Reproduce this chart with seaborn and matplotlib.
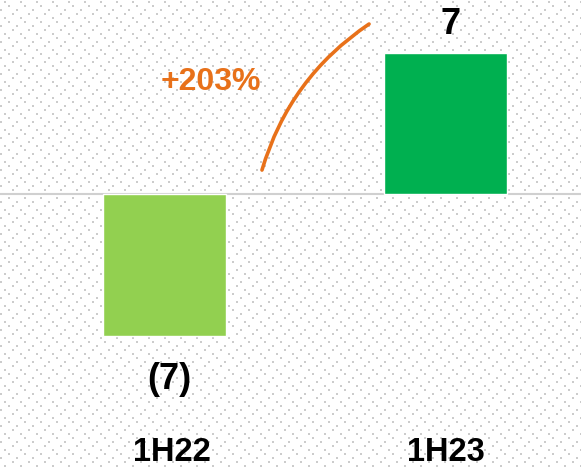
import numpy as np
import pandas as pd
import seaborn as sns
import matplotlib.pyplot as plt
import matplotlib.transforms as mtransforms

# Data
periods = ['1H22', '1H23']
values = [-7, 7]
bar_colors = ['#92D050', '#00B050']
change_label = '+203%'

orange = '#E8711A'

sns.set_theme(style='white')
plt.rcParams['font.family'] = ['Liberation Sans', 'DejaVu Sans']

W, H = 581, 469
fig = plt.figure(figsize=(W / 100, H / 100), dpi=100)
fig.patch.set_facecolor('white')

# dotted background texture (light grey 2px dots)
bg = np.ones((H, W, 3))
shifts = [0, 4, 12, 8]
for i, r in enumerate(range(1, H, 4)):
    start = (4 + shifts[i % 4]) % 16
    for c in range(start, W, 16):
        bg[r:r + 2, c:c + 2] = 0.8
fig.figimage(bg, xo=0, yo=0, origin='upper', zorder=-1)

# axes covers the top part of the figure, tick labels sit below it
zero_px = 194.3        # pixel row of the zero line
px_per_unit = 20.2
axes_bottom_px = 430
ax = fig.add_axes([0, (H - axes_bottom_px) / H, 1, axes_bottom_px / H])
ax.patch.set_visible(False)

df = pd.DataFrame({'period': periods, 'value': values})
sns.barplot(data=df, x='period', y='value', hue='period', palette=bar_colors,
            saturation=1, width=0.438, legend=False, ax=ax, zorder=3)

ax.axhline(0, color='#D0D0D0', lw=1.5, zorder=2)

ax.set_xlim(-0.585, 1.482)
ax.set_ylim(-(axes_bottom_px - zero_px) / px_per_unit, zero_px / px_per_unit)

for s in ax.spines.values():
    s.set_visible(False)
ax.set_yticks([])
ax.set_xlabel('')
ax.set_ylabel('')
ax.tick_params(axis='x', length=0, pad=5, labelsize=23.5)
for k, lbl in enumerate(ax.get_xticklabels()):
    lbl.set_fontweight('bold')
    lbl.set_color('black')
    if k == 0:
        shift = mtransforms.ScaledTranslation(7 / 100, 0, fig.dpi_scale_trans)
        lbl.set_transform(lbl.get_transform() + shift)

# value labels
for i, v in enumerate(values):
    txt = f'({abs(v):.0f})' if v < 0 else f'{v:.0f}'
    off = 19 if v >= 0 else -53
    ax.annotate(txt, xy=(i, v), xytext=(5, off), textcoords='offset pixels',
                ha='center', va='baseline', fontsize=26, fontweight='bold',
                color='black')

# growth arc and label
ax.annotate('', xy=(0.728, 8.43), xytext=(0.347, 1.20),
            arrowprops=dict(arrowstyle='-', color=orange, lw=2.6,
                            connectionstyle='arc3,rad=-0.18',
                            shrinkA=0, shrinkB=0))
ax.text(0.167, 5.16, change_label, ha='center', va='baseline',
        fontsize=23, fontweight='bold', color=orange)

fig.savefig('out.png', dpi=100)
